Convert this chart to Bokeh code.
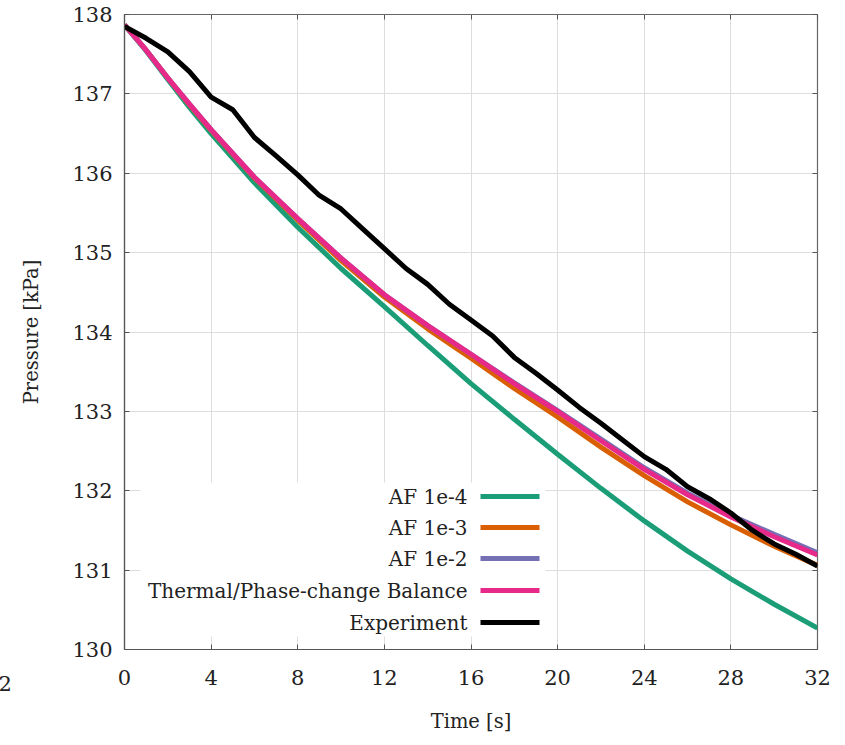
from bokeh.plotting import figure
from bokeh.models import (Range1d, FixedTicker, LinearAxis, BoxAnnotation, Label)
from bokeh.embed import file_html
from bokeh.resources import INLINE

# ---- data ----
t_model = [0, 1, 2, 3, 4, 6, 8, 10, 12, 14, 16, 18, 20, 22, 24, 26, 28, 30, 32]
af_1e4 = [137.87, 137.54, 137.18, 136.83, 136.50, 135.88, 135.32, 134.80, 134.32, 133.83,
          133.35, 132.90, 132.46, 132.03, 131.62, 131.24, 130.89, 130.57, 130.27]
af_1e3 = [137.87, 137.55, 137.20, 136.86, 136.54, 135.94, 135.41, 134.90, 134.44, 134.04,
          133.67, 133.29, 132.93, 132.55, 132.19, 131.86, 131.57, 131.30, 131.06]
af_1e2 = [137.87, 137.55, 137.20, 136.87, 136.55, 135.95, 135.43, 134.93, 134.47, 134.08,
          133.72, 133.36, 133.01, 132.65, 132.29, 131.97, 131.69, 131.45, 131.22]
thermal = [137.87, 137.55, 137.20, 136.87, 136.55, 135.95, 135.43, 134.93, 134.47, 134.08,
           133.72, 133.35, 133.00, 132.63, 132.27, 131.95, 131.67, 131.42, 131.19]
t_exp = list(range(0, 33))
experiment = [137.85, 137.70, 137.53, 137.28, 136.96, 136.80, 136.45, 136.22, 135.98, 135.72,
              135.55, 135.30, 135.05, 134.80, 134.60, 134.35, 134.15, 133.95, 133.68, 133.48,
              133.27, 133.05, 132.85, 132.64, 132.43, 132.27, 132.05, 131.90, 131.72, 131.50,
              131.33, 131.20, 131.05]

series_names = ["AF 1e-4", "AF 1e-3", "AF 1e-2", "Thermal/Phase-change Balance", "Experiment"]
series_colors = ["#1b9e77", "#d95f02", "#7570b3", "#e7298a", "#000000"]
x_ticks = [0, 4, 8, 12, 16, 20, 24, 28, 32]
y_ticks = [130, 131, 132, 133, 134, 135, 136, 137, 138]

FONT = "DejaVu Serif"

p = figure(width=845, height=745, output_backend="svg", toolbar_location=None,
           x_range=Range1d(0, 32), y_range=Range1d(130, 138),
           min_border_left=124, min_border_right=28, min_border_top=14, min_border_bottom=96)
p.background_fill_color = "white"
p.border_fill_color = "white"
p.outline_line_color = "#666666"
p.outline_line_width = 1.2

for ax in (p.xaxis[0], p.yaxis[0]):
    ax.axis_line_color = "#555555"
    ax.axis_line_width = 1.2
    ax.major_tick_in = 5
    ax.major_tick_out = 0
    ax.minor_tick_line_color = None
    ax.major_tick_line_color = "#555555"
    ax.major_label_text_font = FONT
    ax.major_label_text_font_size = "21px"
    ax.major_label_text_color = "#222222"
    ax.axis_label_text_font = FONT
    ax.axis_label_text_font_size = "19.5px"
    ax.axis_label_text_font_style = "normal"
    ax.axis_label_text_color = "#222222"

p.xaxis.ticker = FixedTicker(ticks=x_ticks)
p.yaxis.ticker = FixedTicker(ticks=y_ticks)
p.xaxis.major_label_standoff = 20
p.yaxis.major_label_standoff = 12
p.xaxis.axis_label = "Time [s]"
p.yaxis.axis_label = "Pressure [kPa]"
p.xaxis.axis_label_standoff = 22
p.yaxis.axis_label_standoff = 26

# mirrored tick marks on top / right (no labels drawn)
for loc, tk in (("right", y_ticks), ("above", x_ticks)):
    a = LinearAxis(ticker=FixedTicker(ticks=tk), major_label_text_font_size="1px",
                   major_label_text_color=None,
                   major_tick_in=5, major_tick_out=0, minor_tick_line_color=None,
                   axis_line_color=None, major_tick_line_color="#555555",
                   major_label_standoff=0)
    p.add_layout(a, loc)

p.xgrid.ticker = FixedTicker(ticks=x_ticks)
p.ygrid.ticker = FixedTicker(ticks=y_ticks)
p.grid.grid_line_color = "#dddddd"
p.grid.grid_line_width = 1

model_series = [af_1e4, af_1e3, af_1e2, thermal]
for ys, c in zip(model_series, series_colors[:4]):
    p.line(t_model, ys, line_color=c, line_width=5)
p.line(t_exp, experiment, line_color=series_colors[4], line_width=5)

# ---- legend (custom: right-aligned text, line on the right) ----
p.add_layout(BoxAnnotation(left=16, right=421, bottom=13, top=167,
                           left_units="screen", right_units="screen",
                           bottom_units="screen", top_units="screen",
                           fill_color="white", fill_alpha=1.0, line_color=None,
                           level="annotation"))
row_y = [153, 122, 91, 59, 27]
for name, c, yy in zip(series_names, series_colors, row_y):
    p.add_layout(BoxAnnotation(left=356, right=415, bottom=yy - 2.5, top=yy + 2.5,
                               left_units="screen", right_units="screen",
                               bottom_units="screen", top_units="screen",
                               fill_color=c, fill_alpha=1.0, line_color=None,
                               level="overlay"))
    p.add_layout(Label(x=343, y=yy, x_units="screen", y_units="screen", text=name,
                       text_align="right", text_baseline="middle",
                       text_font=FONT, text_font_size="20px", text_color="#222222",
                       level="overlay"))

# stray clipped tick label at far left in the reference (placed in the left side panel)
p.add_layout(Label(x=-6, y=-34, x_units="screen", y_units="screen", text="2",
                   text_align="left", text_baseline="middle",
                   text_font=FONT, text_font_size="21px", text_color="#222222"), "left")

open("out.html", "w").write(file_html(p, INLINE))
